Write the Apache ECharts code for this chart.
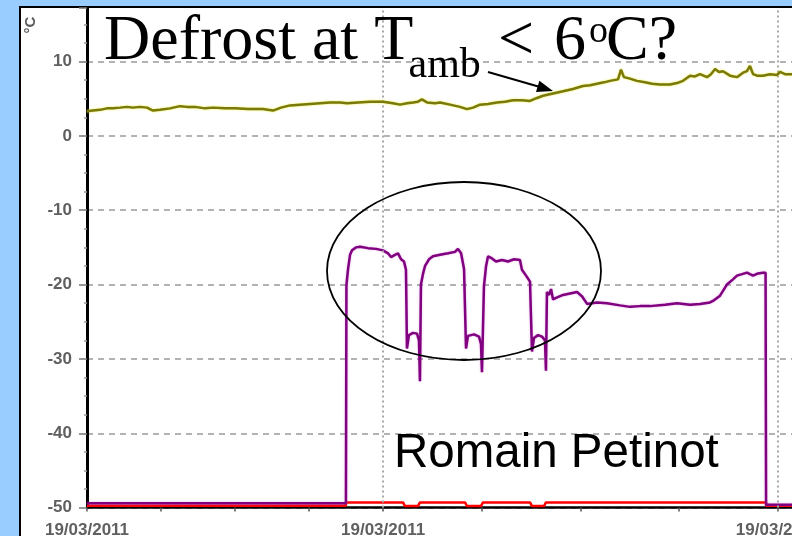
<!DOCTYPE html>
<html>
<head>
<meta charset="utf-8">
<script src="https://cdn.jsdelivr.net/npm/echarts@6/dist/echarts.min.js"></script>
<style>
  html, body { margin: 0; padding: 0; background: #99ccff; }
  #chart { width: 792px; height: 536px; }
</style>
</head>
<body>
<div id="chart"></div>
<script>
// Time axis in minutes from the start of the log
const xTickMinutes = [0, 45, 90, 135, 180, 240, 300, 360, 420];
const xLabelMinutes = [0, 180, 420];
const xLabelText = '19/03/2011';
const xGridMinutes = [180, 420];

// Ambient air temperature (°C)
const ambientMinutes = [0, 3.6, 7.9, 12.2, 15.8, 20.1, 24.3, 28.0, 32.2, 36.5, 40.1, 44.4, 50.5, 56.5, 60.8, 65.7, 71.7, 76.6, 83.9, 90.0,
  97.9, 107.0, 110.0, 113.1, 117.9, 123.4, 129.5, 135.6, 141.6, 147.7, 153.8, 158.1, 164.7, 172.0, 179.9, 186.0, 190.3, 194.5, 198.2, 201.2,
  203.6, 206.7, 211.6, 214.6, 220.7, 226.7, 231.0, 234.7, 238.9, 243.8, 249.2, 254.1, 259.0, 264.4, 269.3, 273.6, 277.2, 283.3, 289.4, 295.4,
  301.5, 305.8, 310.0, 314.3, 317.9, 322.8, 324.6, 326.4, 330.1, 334.3, 339.2, 343.5, 348.3, 354.4, 358.7, 362.3, 366.6, 369.6, 372.6, 376.9,
  379.3, 381.8, 384.2, 386.6, 390.9, 395.1, 398.8, 401.2, 403.0, 404.9, 407.3, 410.9, 415.2, 419.5, 421.3, 424.3, 428.6, 433.4];
const ambientTemp = [3.3, 3.4, 3.5, 3.7, 3.7, 3.8, 3.9, 3.8, 3.9, 3.8, 3.4, 3.5, 3.7, 4.0, 3.9, 3.9, 3.7, 3.8, 3.7, 3.7,
  3.6, 3.6, 3.5, 3.4, 3.8, 4.1, 4.2, 4.3, 4.4, 4.5, 4.5, 4.4, 4.5, 4.6, 4.6, 4.4, 4.2, 4.4, 4.5, 4.6,
  4.9, 4.5, 4.4, 4.5, 4.2, 3.9, 3.6, 3.8, 4.2, 4.3, 4.5, 4.6, 4.8, 4.8, 4.7, 5.1, 5.4, 5.7, 6.0, 6.3,
  6.7, 6.8, 7.0, 7.2, 7.4, 7.6, 8.9, 7.9, 7.7, 7.4, 7.2, 7.0, 6.9, 6.9, 7.1, 7.4, 8.1, 8.0, 8.3, 7.9,
  8.3, 9.0, 8.6, 8.7, 8.1, 7.9, 8.5, 8.7, 9.4, 8.3, 8.1, 8.1, 8.3, 8.2, 8.6, 8.3, 8.3, 8.4];

// Evaporator temperature (°C)
const evapMinutes = [0, 157.4, 157.7, 158.7, 159.9, 161.1, 163.5, 166.0, 170.8, 175.7, 179.9, 183.0, 184.8, 187.2, 189.1, 190.9, 192.7, 193.9,
  194.5, 195.7, 198.2, 200.6, 201.8, 202.4, 203.0, 204.3, 205.5, 207.9, 210.3, 214.6, 219.5, 223.7, 225.5, 227.4, 229.2,
  230.4, 231.6, 235.3, 238.3, 239.5, 240.1, 241.3, 242.6, 243.8, 245.6, 248.6, 252.3, 255.9, 259.6, 263.2, 264.4, 266.9, 269.3,
  270.5, 271.7, 274.2, 276.6, 278.4, 279.0, 279.6, 280.9, 282.1, 283.3, 285.1, 289.4, 293.6, 297.9, 301.0, 304.0, 310.0, 316.1,
  324.0, 330.1, 336.2, 342.2, 351.4, 358.7, 366.6, 372.6, 378.7, 380.5, 384.8, 389.0, 392.7, 395.1, 398.2, 401.2, 403.0, 404.9,
  407.9, 410.9, 412.5, 412.8, 433.4];
const evapTemp = [-49.4, -49.4, -20.1, -17.9, -16.0, -15.4, -15.0, -14.9, -15.1, -15.2, -15.4, -15.8, -16.3, -16.0, -15.8, -16.6, -16.9, -18.0,
  -28.6, -26.8, -26.5, -26.6, -27.5, -33.0, -20.0, -18.5, -17.5, -16.6, -16.2, -16.0, -15.8, -15.6, -15.2, -15.8, -17.9,
  -28.6, -26.9, -26.7, -27.0, -28.0, -31.8, -20.2, -17.5, -16.2, -16.4, -16.9, -16.7, -16.9, -16.6, -16.7, -18.0, -18.8, -19.6,
  -29.0, -27.2, -26.8, -27.0, -27.5, -31.6, -21.0, -21.4, -20.6, -22.0, -21.8, -21.4, -21.2, -21.0, -21.6, -22.6, -22.4, -22.5,
  -22.8, -23.0, -22.9, -22.9, -22.7, -22.5, -22.7, -22.6, -22.4, -22.2, -21.5, -20.0, -19.3, -18.8, -18.6, -18.4, -18.6, -18.8,
  -18.5, -18.4, -18.4, -49.6, -49.6];

// Compressor state trace, drawn along the bottom of the scale
const compMinutes = [0, 157.4, 157.4, 192.1, 193.3, 201.2, 202.4, 229.8, 231.0, 239.5, 240.7, 269.3, 270.5, 277.8, 279.0, 412.8, 412.8, 433.4];
const compTemp = [-49.75, -49.75, -49.3, -49.3, -49.8, -49.8, -49.3, -49.3, -49.8, -49.8, -49.3, -49.3, -49.8, -49.8, -49.3, -49.3, -49.75, -49.75];

const yMin = -50, yMax = 17.2, yStep = 10;

const pairs = (xs, ys) => xs.map((x, i) => [x, ys[i]]);

const chart = echarts.init(document.getElementById('chart'), null, { renderer: 'canvas' });

const labelFont = { fontFamily: 'Liberation Sans, Arial, sans-serif', fontSize: 17, fontWeight: 'bold', color: '#606060' };

chart.setOption({
  animation: false,
  backgroundColor: '#99ccff',
  grid: { left: 87, top: 8, width: 712.3, bottom: 28.4, containLabel: false, outerBoundsMode: 'none' },
  xAxis: {
    type: 'value',
    min: 0,
    max: 433,
    axisLine: { show: true, onZero: false, lineStyle: { color: '#000', width: 2.5 } },
    axisTick: { show: true, customValues: xTickMinutes, length: 4, lineStyle: { color: '#555', width: 1.5 } },
    axisLabel: Object.assign({ customValues: xLabelMinutes, margin: 14, formatter: () => xLabelText }, labelFont),
    splitLine: { show: false }
  },
  yAxis: {
    type: 'value',
    min: yMin,
    max: yMax,
    interval: yStep,
    axisLine: { show: true, onZero: false, lineStyle: { color: '#000', width: 3 } },
    axisTick: { show: true, length: 8, lineStyle: { color: '#777', width: 1.5 } },
    minorTick: { show: true, splitNumber: 4, length: 3, lineStyle: { color: '#999', width: 1.5 } },
    axisLabel: Object.assign({
      margin: 15,
      formatter: v => (Math.abs(v % yStep) < 1e-9 ? String(v) : '')
    }, labelFont),
    splitLine: { show: true, showMaxLine: false, lineStyle: { color: '#9a9a9a', width: 1.5, type: [6, 5] } }
  },
  series: [
    {
      name: 'Compressor',
      type: 'line',
      data: pairs(compMinutes, compTemp),
      showSymbol: false,
      lineStyle: { color: '#ff0000', width: 2.5 },
      z: 3
    },
    {
      name: 'Evaporator',
      type: 'line',
      data: pairs(evapMinutes, evapTemp),
      showSymbol: false,
      lineStyle: { color: '#800080', width: 2.5, shadowColor: 'rgba(200,80,200,0.5)', shadowBlur: 2 },
      z: 4,
      markLine: {
        silent: true,
        symbol: 'none',
        label: { show: false },
        lineStyle: { color: '#a8a8a8', width: 2, type: [2, 3] },
        data: xGridMinutes.map(m => ({ xAxis: m }))
      }
    },
    {
      name: 'Ambient',
      type: 'line',
      data: pairs(ambientMinutes, ambientTemp),
      showSymbol: false,
      lineStyle: { color: '#7a7a0c', width: 2.5, shadowColor: 'rgba(230,230,0,0.8)', shadowBlur: 2 },
      z: 5
    }
  ],
  graphic: [
    { type: 'rect', z: -10, silent: true, shape: { x: 20, y: 7, width: 800, height: 560 },
      style: { fill: '#ffffff', stroke: '#000000', lineWidth: 2 } },
    { type: 'text', z: 10, silent: true, x: 31, y: 25, rotation: Math.PI / 2,
      style: { text: '°C', font: 'bold 15px "Liberation Sans", Arial, sans-serif', fill: '#5a5a5a', align: 'center', verticalAlign: 'middle' } },
    // headline annotation
    { type: 'text', z: 100, silent: true, x: 104, y: 63.5 - 0.3375 * 64,
      style: { text: 'Defrost at T', font: '64px "Liberation Serif", "Times New Roman", serif', fill: '#000', verticalAlign: 'middle' } },
    { type: 'text', z: 100, silent: true, x: 408.5, y: 80 - 0.3375 * 42,
      style: { text: 'amb', font: '42px "Liberation Serif", "Times New Roman", serif', fill: '#000', verticalAlign: 'middle' } },
    { type: 'text', z: 100, silent: true, x: 498, y: 63.5 - 0.3375 * 64,
      style: { text: '<', font: '64px "Liberation Serif", "Times New Roman", serif', fill: '#000', verticalAlign: 'middle' } },
    { type: 'text', z: 100, silent: true, x: 554, y: 63.5 - 0.3375 * 64,
      style: { text: '6', font: '64px "Liberation Serif", "Times New Roman", serif', fill: '#000', verticalAlign: 'middle' } },
    { type: 'text', z: 100, silent: true, x: 589, y: 45 - 0.3375 * 38,
      style: { text: 'o', font: '38px "Liberation Serif", "Times New Roman", serif', fill: '#000', verticalAlign: 'middle' } },
    { type: 'text', z: 100, silent: true, x: 606, y: 63.5 - 0.3375 * 64,
      style: { text: 'C?', font: '64px "Liberation Serif", "Times New Roman", serif', fill: '#000', verticalAlign: 'middle' } },
    // arrow pointing at the ambient trace
    { type: 'line', z: 100, silent: true, shape: { x1: 488, y1: 72, x2: 540, y2: 87 },
      style: { stroke: '#000', lineWidth: 2 } },
    { type: 'polygon', z: 100, silent: true, shape: { points: [[553, 91], [539.4, 80.7], [536, 92.1]] },
      style: { fill: '#000' } },
    // ellipse around the defrost cycles
    { type: 'ellipse', z: 100, silent: true, shape: { cx: 464, cy: 271, rx: 137, ry: 89 },
      style: { fill: null, stroke: '#000', lineWidth: 1.8 } },
    // author credit
    { type: 'text', z: 100, silent: true, x: 394, y: 470 - 0.3465 * 47.5,
      style: { text: 'Romain Petinot', font: '47.5px "Liberation Sans", Arial, sans-serif', fill: '#000', verticalAlign: 'middle' } }
  ]
});
</script>
</body>
</html>
